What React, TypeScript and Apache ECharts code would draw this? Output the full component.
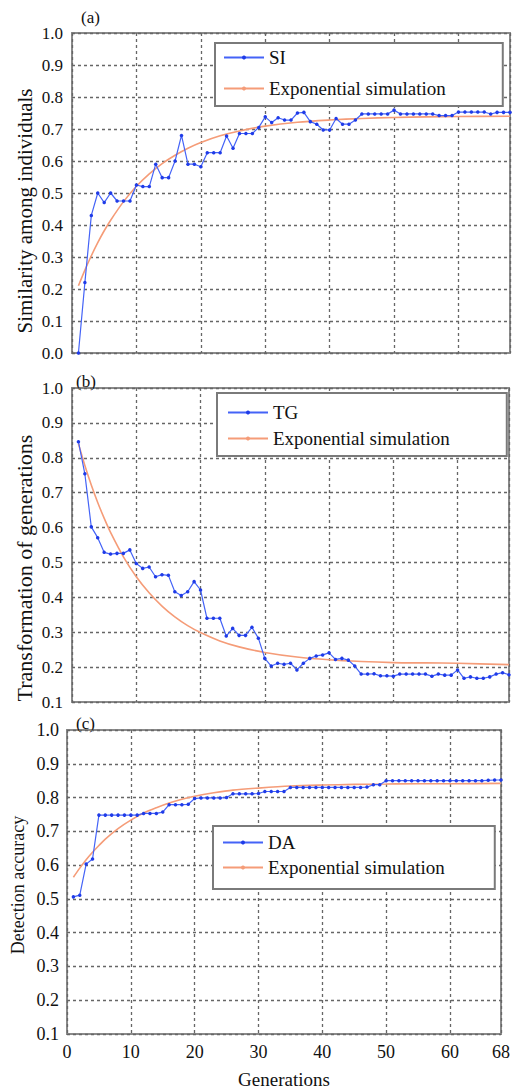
import React, { useEffect, useRef } from "react";
import * as echarts from "echarts";

const generations = [
  1, 2, 3, 4, 5, 6, 7, 8, 9, 10, 11, 12, 13, 14, 15, 16, 17, 18, 19, 20,
  21, 22, 23, 24, 25, 26, 27, 28, 29, 30, 31, 32, 33, 34, 35, 36, 37, 38, 39, 40,
  41, 42, 43, 44, 45, 46, 47, 48, 49, 50, 51, 52, 53, 54, 55, 56, 57, 58, 59, 60,
  61, 62, 63, 64, 65, 66, 67, 68,
];

const siValues = [
  0.0, 0.22, 0.43, 0.5, 0.47, 0.5, 0.475, 0.475, 0.475, 0.525,
  0.52, 0.52, 0.59, 0.548, 0.548, 0.6, 0.68, 0.59, 0.59, 0.582,
  0.626, 0.626, 0.626, 0.678, 0.64, 0.686, 0.686, 0.686, 0.705, 0.738,
  0.72, 0.735, 0.728, 0.728, 0.75, 0.752, 0.723, 0.715, 0.697, 0.697,
  0.733, 0.715, 0.715, 0.728, 0.747, 0.747, 0.747, 0.747, 0.747, 0.759,
  0.747, 0.747, 0.747, 0.747, 0.747, 0.747, 0.742, 0.742, 0.742, 0.753,
  0.753, 0.753, 0.753, 0.753, 0.747, 0.752, 0.752, 0.752,
];

const tgValues = [
  0.846, 0.754, 0.602, 0.571, 0.529, 0.524, 0.526, 0.526, 0.536, 0.497,
  0.483, 0.487, 0.459, 0.465, 0.463, 0.416, 0.405, 0.416, 0.445, 0.421,
  0.34, 0.34, 0.34, 0.289, 0.311, 0.291, 0.291, 0.314, 0.283, 0.225,
  0.203, 0.211, 0.208, 0.211, 0.192, 0.211, 0.225, 0.232, 0.235, 0.241,
  0.222, 0.225, 0.22, 0.203, 0.18, 0.18, 0.181, 0.175, 0.175, 0.174,
  0.18, 0.18, 0.18, 0.18, 0.18, 0.174, 0.18, 0.177, 0.177, 0.192,
  0.168, 0.172, 0.168, 0.168, 0.172, 0.18, 0.184, 0.178,
];

const daValues = [
  0.506, 0.511, 0.603, 0.618, 0.748, 0.748, 0.748, 0.748, 0.748, 0.748,
  0.748, 0.753, 0.753, 0.753, 0.757, 0.779, 0.779, 0.779, 0.78, 0.797,
  0.799, 0.799, 0.799, 0.799, 0.8, 0.811, 0.811, 0.811, 0.811, 0.812,
  0.818, 0.818, 0.818, 0.818, 0.83, 0.83, 0.83, 0.83, 0.83, 0.83,
  0.83, 0.83, 0.83, 0.83, 0.83, 0.83, 0.831, 0.838, 0.838, 0.85,
  0.85, 0.85, 0.85, 0.85, 0.85, 0.85, 0.85, 0.85, 0.85, 0.85,
  0.85, 0.85, 0.85, 0.85, 0.85, 0.851, 0.852, 0.852,
];

const simGenerations = [1, 2, 3, 4, 5, 6, 8, 10, 12, 14, 16, 18, 20, 23, 26, 30, 35, 40, 45, 50, 55, 60, 68];
const simA = [0.21, 0.259, 0.304, 0.345, 0.382, 0.415, 0.473, 0.521, 0.56, 0.592, 0.618, 0.64, 0.658, 0.679, 0.694, 0.709, 0.721, 0.728, 0.733, 0.736, 0.738, 0.739, 0.74];
const simB = [0.84, 0.778, 0.722, 0.672, 0.627, 0.586, 0.516, 0.459, 0.413, 0.375, 0.344, 0.319, 0.299, 0.275, 0.258, 0.242, 0.229, 0.221, 0.216, 0.213, 0.212, 0.211, 0.207];
const simC = [0.564, 0.591, 0.616, 0.638, 0.658, 0.677, 0.708, 0.733, 0.754, 0.77, 0.784, 0.795, 0.804, 0.814, 0.822, 0.828, 0.834, 0.837, 0.839, 0.84, 0.841, 0.841, 0.842];

const xTicks = { min: 0, max: 68, interval: 10 };
const yRanges = [
  { min: 0, max: 1 },
  { min: 0.1, max: 1 },
  { min: 0.1, max: 1 },
];
const seriesNames = ["SI", "TG", "DA"];
const yTitles = ["Similarity among individuals", "Transformation of generations", "Detection accuracy"];
const panelLabels = ["(a)", "(b)", "(c)"];
const simName = "Exponential simulation";

const FONT = "Liberation Serif";
const BLUE = "#4463f7";
const BLUE_DOT = "#1f3be8";
const ORANGE = "#f59c78";
const GRID_LINE = { color: "#666666", width: 1.3, type: [3, 3] as number[] };

export default function App() {
  const ref = useRef<HTMLDivElement>(null);

  useEffect(() => {
    document.body.style.margin = "0";
    const chart = echarts.init(ref.current!, null, { renderer: "svg" });

    const grids = [
      { left: 72, top: 33, width: 438, height: 320 },
      { left: 72, top: 388, width: 437, height: 314 },
      { left: 67, top: 730, width: 442, height: 310 },
    ];
    const tickSizes = [17, 17, 18];
    const labelRight = [9, 9, 8];

    const observed = [siValues, tgValues, daValues];
    const sims = [simA, simB, simC];

    const series: any[] = [];
    for (let i = 0; i < 3; i++) {
      series.push({
        name: simName,
        type: "line",
        xAxisIndex: i,
        yAxisIndex: i,
        data: simGenerations.map((g, k) => [g, sims[i][k]]),
        smooth: 0.3,
        showSymbol: false,
        symbol: "none",
        lineStyle: { color: ORANGE, width: 1.6 },
        itemStyle: { color: ORANGE },
        z: 2,
      });
      series.push({
        name: seriesNames[i],
        type: "line",
        xAxisIndex: i,
        yAxisIndex: i,
        data: generations.map((g, k) => [g, observed[i][k]]),
        symbol: "circle",
        symbolSize: 3.5,
        lineStyle: { color: BLUE, width: 1.2 },
        itemStyle: { color: BLUE_DOT },
        z: 3,
      });
    }

    const legendBoxes = [
      { left: 215, top: 43, padding: [5, 57, 8, 8], itemGap: 12 },
      { left: 217, top: 393, padding: [10, 57, 8, 10], itemGap: 7 },
      { left: 213, top: 826, padding: [7, 50, 12, 9], itemGap: 6 },
    ];

    const titlePos = [
      { x: 25, y: 211, size: 21 },
      { x: 24, y: 568, size: 22 },
      { x: 18, y: 885, size: 18 },
    ];
    const panelPos = [
      { x: 81, y: 17 },
      { x: 76, y: 381 },
      { x: 76, y: 723 },
    ];

    const graphic: any[] = [];
    for (let i = 0; i < 3; i++) {
      graphic.push({
        type: "text",
        x: titlePos[i].x,
        y: titlePos[i].y,
        rotation: Math.PI / 2,
        style: {
          text: yTitles[i],
          fontFamily: FONT,
          fontSize: titlePos[i].size,
          fill: "#111",
          align: "center",
          verticalAlign: "middle",
        },
      });
      graphic.push({
        type: "text",
        x: panelPos[i].x,
        y: panelPos[i].y,
        style: {
          text: panelLabels[i],
          fontFamily: FONT,
          fontSize: 17,
          fill: "#111",
          align: "left",
          verticalAlign: "middle",
        },
      });
    }

    const option: any = {
      animation: false,
      backgroundColor: "#ffffff",
      textStyle: { fontFamily: FONT },
      grid: grids.map((g) => ({
        ...g,
        show: true,
        borderColor: "#8a8a8a",
        borderWidth: 2,
        backgroundColor: "transparent",
      })),
      xAxis: grids.map((_, i) => ({
        type: "value",
        gridIndex: i,
        min: xTicks.min,
        max: xTicks.max,
        interval: xTicks.interval,
        axisLine: { show: false },
        axisTick: { show: false },
        splitLine: { show: true, lineStyle: GRID_LINE },
        axisLabel: {
          show: i === 2,
          fontFamily: FONT,
          fontSize: 18,
          color: "#111",
          margin: 9,
        },
        name: i === 2 ? "Generations" : "",
        nameLocation: "middle",
        nameGap: 36,
        nameTextStyle: { fontFamily: FONT, fontSize: 19, color: "#111" },
      })),
      yAxis: grids.map((_, i) => ({
        type: "value",
        gridIndex: i,
        min: yRanges[i].min,
        max: yRanges[i].max,
        interval: 0.1,
        axisLine: { show: false },
        axisTick: { show: false },
        splitLine: { show: true, lineStyle: GRID_LINE },
        axisLabel: {
          fontFamily: FONT,
          fontSize: tickSizes[i],
          color: "#111",
          margin: labelRight[i],
          formatter: (v: number) => v.toFixed(1),
        },
      })),
      legend: legendBoxes.map((b, i) => ({
        orient: "vertical",
        left: b.left,
        top: b.top,
        padding: b.padding,
        itemGap: b.itemGap,
        itemWidth: 40,
        itemHeight: 5,
        backgroundColor: "#ffffff",
        borderColor: "#7a7a7a",
        borderWidth: 2,
        data: [seriesNames[i], simName],
        textStyle: { fontFamily: FONT, fontSize: 19, color: "#111" },
        selectedMode: false,
      })),
      graphic,
      series,
    };

    chart.setOption(option);
    return () => chart.dispose();
  }, []);

  return <div ref={ref} style={{ width: 513, height: 1090 }} />;
}
